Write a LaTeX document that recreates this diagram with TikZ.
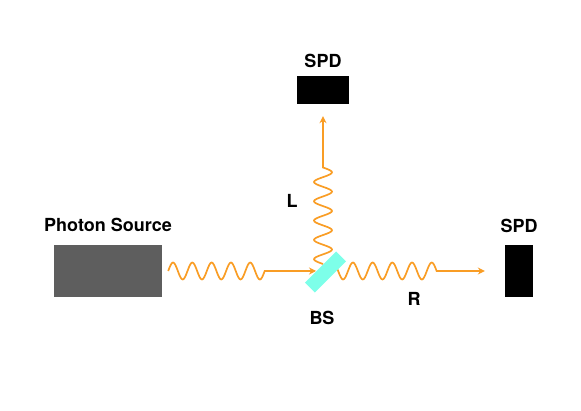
\documentclass[tikz,border=0pt]{standalone}
\usepackage{fontspec}
\setmainfont{TeX Gyre Heros}
\usetikzlibrary{arrows.meta, positioning, decorations}
\definecolor{photonorange}{HTML}{F99D25}
\definecolor{bscyan}{HTML}{7DFFE9}
\definecolor{sourcegray}{HTML}{5E5E5E}
\tikzset{every node/.style={font=\fontsize{18}{20}\bfseries}}
\pgfdeclaredecoration{sinewave}{up}{
  \state{up}[switch if less than=+.5\pgfdecorationsegmentlength to final, width=+.5\pgfdecorationsegmentlength, next state=down]{
    \pgfpathcurveto{\pgfpoint{.2122\pgfdecorationsegmentlength}{1.333\pgfdecorationsegmentamplitude}}{\pgfpoint{.2878\pgfdecorationsegmentlength}{1.333\pgfdecorationsegmentamplitude}}{\pgfpoint{.5\pgfdecorationsegmentlength}{0pt}}
  }
  \state{down}[switch if less than=+.5\pgfdecorationsegmentlength to final, width=+.5\pgfdecorationsegmentlength, next state=up]{
    \pgfpathcurveto{\pgfpoint{.2122\pgfdecorationsegmentlength}{-1.333\pgfdecorationsegmentamplitude}}{\pgfpoint{.2878\pgfdecorationsegmentlength}{-1.333\pgfdecorationsegmentamplitude}}{\pgfpoint{.5\pgfdecorationsegmentlength}{0pt}}
  }
  \state{final}{\pgfpathlineto{\pgfpointdecoratedpathlast}}
}

\begin{document}
\begin{tikzpicture}[
    x=1pt, y=-1pt,
    >={Stealth[length=7pt, width=7pt]},
    box/.style={rectangle, fill=#1, inner sep=0pt},
    photon/.style={->, color=photonorange, line width=1.7pt, decorate},
  ]
  \useasboundingbox (0,0) rectangle (581,411);
  \node[box=sourcegray, minimum width=108pt, minimum height=52pt] (source) at (108,271) {};
  \node[box=black, minimum width=52pt, minimum height=28pt] (spdtop) at (323,90) {};
  \node[box=black, minimum width=28pt, minimum height=52pt] (spdright) at (519,271) {};
  \coordinate (bspos) at (325.5,272);
  % photon paths go under the splitter
  \draw[photon, shorten >=9.5pt, decoration={sinewave, segment length=19.3pt, amplitude=8.5pt, pre=moveto, pre length=6pt, post length=60.5pt}]
    (source.east) -- (source.east -| bspos);
  \draw[photon, shorten >=12pt, decoration={sinewave, segment length=19.3pt, amplitude=9pt, pre=moveto, pre length=8pt, post length=63pt}]
    (spdtop |- bspos) -- (spdtop.south);
  \draw[photon, shorten >=20pt, decoration={sinewave, segment length=19.7pt, amplitude=8.5pt, pre=moveto, pre length=2.8pt, post length=68pt}]
    (bspos |- spdright) -- (spdright.west);
  \node[box=bscyan, minimum width=44pt, minimum height=14pt, rotate=45] (bs) at (bspos) {};
  \node[above=10pt of source] (sourcelabel) {Photon Source};
  \node[above=5pt of spdtop] (spdtoplabel) {SPD};
  \node[above=9pt of spdright] (spdrightlabel) {SPD};
  \node (llabel) at (292,201) {L};
  \node (rlabel) at (414,299) {R};
  \node (bslabel) at (322,318) {BS};
\end{tikzpicture}
\end{document}
